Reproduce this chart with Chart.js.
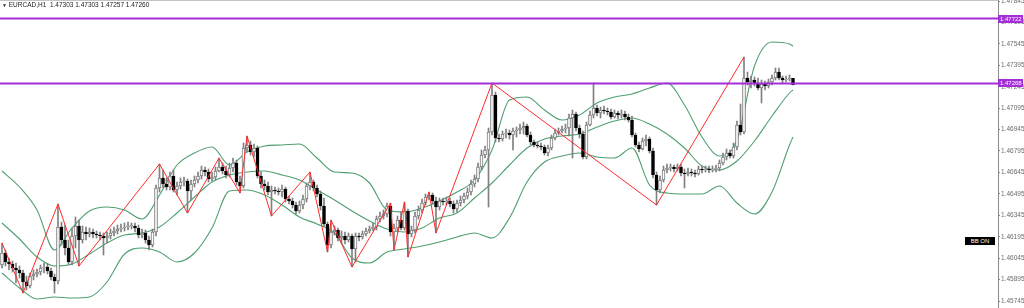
<!DOCTYPE html>
<html>
<head>
<meta charset="utf-8">
<title>EURCAD,H1</title>
<script src="https://cdn.jsdelivr.net/npm/chart.js@4.4.1/dist/chart.umd.min.js"></script>
<style>
  html, body { margin: 0; padding: 0; background: #fff; }
  #wrap { position: relative; width: 1024px; height: 308px; overflow: hidden; }
  #c { position: absolute; left: 0; top: 0; }
  .title { position: absolute; left: 2px; top: 1px; font: 6.5px "Liberation Sans", Arial, sans-serif; color: #222; white-space: pre; }
  .title .tri { font-size: 5px; }
  .bbon { position: absolute; left: 965px; top: 237px; width: 30px; height: 8px; background: #000; color: #fff;
          font: 6px "Liberation Sans", Arial, sans-serif; line-height: 8px; text-align: center; }
</style>
</head>
<body>
<div id="wrap">
  <canvas id="c" width="1024" height="308"></canvas>
  <div class="title"><span class="tri">▼</span> EURCAD,H1  1.47303 1.47303 1.47257 1.47260</div>
  <div class="bbon">BB ON</div>
</div>
<script>
// H1 candles (oldest first)
const opens = [
  1.45997,1.46081,1.46018,1.46004,1.45976,1.45962,1.45941,1.45878,1.45850,1.45920,
  1.45934,1.45948,1.45976,1.45983,1.45955,1.45913,1.45885,1.46263,1.46172,1.46116,
  1.46018,1.46200,1.46270,1.46172,1.46228,1.46214,1.46228,1.46214,1.46207,1.46200,
  1.46186,1.46200,1.46221,1.46235,1.46249,1.46256,1.46263,1.46270,1.46270,1.46256,
  1.46207,1.46221,1.46172,1.46137,1.46228,1.46536,1.46606,1.46564,1.46543,1.46620,
  1.46522,1.46550,1.46578,1.46585,1.46515,1.46564,1.46592,1.46620,1.46662,1.46648,
  1.46599,1.46613,1.46655,1.46683,1.46655,1.46627,1.46676,1.46711,1.46578,1.46550,
  1.46816,1.46837,1.46788,1.46816,1.46620,1.46564,1.46550,1.46508,1.46522,1.46515,
  1.46508,1.46529,1.46459,1.46445,1.46417,1.46375,1.46417,1.46459,1.46550,1.46578,
  1.46536,1.46494,1.46410,1.46284,1.46137,1.46228,1.46242,1.46186,1.46200,1.46172,
  1.46200,1.46109,1.46200,1.46193,1.46214,1.46235,1.46249,1.46263,1.46319,1.46340,
  1.46354,1.46410,1.46228,1.46256,1.46312,1.46256,1.46375,1.46214,1.46242,1.46340,
  1.46382,1.46431,1.46473,1.46487,1.46445,1.46403,1.46445,1.46438,1.46445,1.46424,
  1.46389,1.46431,1.46452,1.46480,1.46508,1.46564,1.46599,1.46683,1.46767,1.46802,
  1.46928,1.47187,1.46886,1.46879,1.46914,1.46921,1.46907,1.46935,1.46942,1.46956,
  1.46970,1.46907,1.46858,1.46837,1.46830,1.46823,1.46781,1.46816,1.46886,1.46921,
  1.46935,1.46949,1.46956,1.47026,1.47054,1.46956,1.46914,1.46753,1.46977,1.47047,
  1.47096,1.47061,1.47082,1.47075,1.47068,1.47033,1.47061,1.47047,1.47054,1.47033,
  1.47012,1.46907,1.46837,1.46809,1.46865,1.46879,1.46795,1.46627,1.46522,1.46592,
  1.46662,1.46676,1.46683,1.46669,1.46683,1.46641,1.46634,1.46648,1.46641,1.46634,
  1.46669,1.46662,1.46669,1.46662,1.46669,1.46676,1.46711,1.46753,1.46781,1.46760,
  1.46823,1.46977,1.46928,1.47306,1.47278,1.47292,1.47271,1.47236,1.47264,1.47250,
  1.47278,1.47306,1.47348,1.47306,1.47292,1.47299,1.47303
];
const highs = [
  1.46151,1.46102,1.46046,1.46025,1.46011,1.45990,1.45962,1.45920,1.45941,1.45962,
  1.45969,1.45997,1.46011,1.46004,1.45976,1.45934,1.46424,1.46298,1.46277,1.46172,
  1.46256,1.46333,1.46312,1.46270,1.46263,1.46256,1.46249,1.46235,1.46228,1.46221,
  1.46228,1.46249,1.46263,1.46277,1.46284,1.46291,1.46298,1.46291,1.46291,1.46277,
  1.46249,1.46242,1.46200,1.46249,1.46557,1.46704,1.46662,1.46606,1.46648,1.46662,
  1.46578,1.46606,1.46613,1.46599,1.46592,1.46620,1.46648,1.46690,1.46683,1.46669,
  1.46648,1.46683,1.46746,1.46711,1.46690,1.46711,1.46746,1.46732,1.46620,1.46851,
  1.46900,1.46865,1.46844,1.46830,1.46648,1.46592,1.46578,1.46550,1.46543,1.46536,
  1.46557,1.46543,1.46480,1.46466,1.46438,1.46445,1.46487,1.46571,1.46648,1.46592,
  1.46557,1.46515,1.46466,1.46298,1.46312,1.46270,1.46256,1.46235,1.46228,1.46221,
  1.46214,1.46221,1.46221,1.46235,1.46256,1.46270,1.46291,1.46340,1.46368,1.46382,
  1.46431,1.46431,1.46284,1.46340,1.46368,1.46438,1.46389,1.46270,1.46368,1.46410,
  1.46459,1.46494,1.46508,1.46501,1.46473,1.46466,1.46466,1.46473,1.46466,1.46445,
  1.46452,1.46480,1.46501,1.46536,1.46592,1.46627,1.46711,1.46802,1.46830,1.46956,
  1.47271,1.47208,1.46914,1.46935,1.46949,1.46942,1.46956,1.46963,1.46984,1.46998,
  1.46984,1.46928,1.46872,1.46858,1.46851,1.46837,1.46837,1.46907,1.46949,1.46956,
  1.46970,1.46984,1.47054,1.47082,1.47068,1.46977,1.46935,1.46998,1.47075,1.47271,
  1.47117,1.47103,1.47110,1.47096,1.47089,1.47082,1.47075,1.47082,1.47075,1.47054,
  1.47040,1.46921,1.46858,1.46886,1.46907,1.46893,1.46816,1.46648,1.46620,1.46690,
  1.46704,1.46704,1.46697,1.46704,1.46704,1.46669,1.46676,1.46669,1.46662,1.46690,
  1.46690,1.46690,1.46690,1.46690,1.46697,1.46732,1.46781,1.46809,1.46802,1.46851,
  1.47005,1.47124,1.47453,1.47348,1.47320,1.47313,1.47306,1.47292,1.47285,1.47299,
  1.47327,1.47376,1.47376,1.47320,1.47320,1.47327,1.47303
];
const lows = [
  1.45976,1.45990,1.45962,1.45948,1.45871,1.45906,1.45801,1.45822,1.45836,1.45892,
  1.45913,1.45927,1.45941,1.45934,1.45892,1.45801,1.45864,1.46137,1.46067,1.46004,
  1.45997,1.46116,1.45990,1.46151,1.46172,1.46193,1.46186,1.46186,1.46172,1.46067,
  1.46151,1.46179,1.46200,1.46214,1.46228,1.46235,1.46242,1.46249,1.46228,1.46186,
  1.46186,1.46151,1.46102,1.46123,1.46200,1.46508,1.46536,1.46522,1.46522,1.46508,
  1.46487,1.46529,1.46550,1.46361,1.46452,1.46543,1.46571,1.46599,1.46620,1.46578,
  1.46585,1.46592,1.46648,1.46634,1.46606,1.46613,1.46648,1.46557,1.46501,1.46536,
  1.46788,1.46767,1.46753,1.46606,1.46536,1.46522,1.46487,1.46340,1.46494,1.46487,
  1.46473,1.46438,1.46424,1.46396,1.46354,1.46361,1.46389,1.46438,1.46522,1.46515,
  1.46473,1.46382,1.46263,1.46088,1.46116,1.46207,1.46165,1.46151,1.46144,1.46158,
  1.45983,1.46018,1.46165,1.46179,1.46200,1.46221,1.46235,1.46242,1.46298,1.46319,
  1.46333,1.46200,1.46102,1.46228,1.46242,1.46242,1.46053,1.46193,1.46221,1.46319,
  1.46361,1.46417,1.46452,1.46424,1.46221,1.46382,1.46417,1.46417,1.46403,1.46361,
  1.46368,1.46410,1.46431,1.46459,1.46487,1.46543,1.46578,1.46662,1.46746,1.46403,
  1.46907,1.46858,1.46858,1.46865,1.46886,1.46879,1.46802,1.46893,1.46914,1.46914,
  1.46893,1.46837,1.46823,1.46816,1.46802,1.46767,1.46760,1.46802,1.46872,1.46907,
  1.46921,1.46921,1.46900,1.46746,1.46935,1.46886,1.46739,1.46739,1.46970,1.47026,
  1.47040,1.47026,1.47054,1.47047,1.47019,1.47026,1.47019,1.47026,1.47012,1.46998,
  1.46893,1.46823,1.46788,1.46802,1.46830,1.46781,1.46606,1.46417,1.46501,1.46578,
  1.46641,1.46655,1.46648,1.46655,1.46620,1.46536,1.46620,1.46620,1.46613,1.46627,
  1.46641,1.46648,1.46641,1.46648,1.46648,1.46655,1.46697,1.46732,1.46746,1.46746,
  1.46802,1.46907,1.46914,1.47257,1.47236,1.47250,1.47222,1.47131,1.47222,1.47236,
  1.47257,1.47292,1.47292,1.47271,1.47278,1.47285,1.47257
];
const closes = [
  1.46081,1.46018,1.46004,1.45976,1.45962,1.45941,1.45878,1.45850,1.45920,1.45934,
  1.45948,1.45976,1.45983,1.45955,1.45913,1.45885,1.46263,1.46172,1.46116,1.46018,
  1.46200,1.46270,1.46172,1.46228,1.46214,1.46228,1.46214,1.46207,1.46200,1.46186,
  1.46200,1.46221,1.46235,1.46249,1.46256,1.46263,1.46270,1.46270,1.46256,1.46207,
  1.46221,1.46172,1.46137,1.46228,1.46536,1.46606,1.46564,1.46543,1.46620,1.46522,
  1.46550,1.46578,1.46585,1.46515,1.46564,1.46592,1.46620,1.46662,1.46648,1.46599,
  1.46613,1.46655,1.46683,1.46655,1.46627,1.46676,1.46711,1.46578,1.46550,1.46816,
  1.46837,1.46788,1.46816,1.46620,1.46564,1.46550,1.46508,1.46522,1.46515,1.46508,
  1.46529,1.46459,1.46445,1.46417,1.46375,1.46417,1.46459,1.46550,1.46578,1.46536,
  1.46494,1.46410,1.46284,1.46137,1.46228,1.46242,1.46186,1.46200,1.46172,1.46200,
  1.46109,1.46200,1.46193,1.46214,1.46235,1.46249,1.46263,1.46319,1.46340,1.46354,
  1.46410,1.46228,1.46256,1.46312,1.46256,1.46375,1.46214,1.46242,1.46340,1.46382,
  1.46431,1.46473,1.46487,1.46445,1.46403,1.46445,1.46438,1.46445,1.46424,1.46389,
  1.46431,1.46452,1.46480,1.46508,1.46564,1.46599,1.46683,1.46767,1.46802,1.46928,
  1.47187,1.46886,1.46879,1.46914,1.46921,1.46907,1.46935,1.46942,1.46956,1.46970,
  1.46907,1.46858,1.46837,1.46830,1.46823,1.46781,1.46816,1.46886,1.46921,1.46935,
  1.46949,1.46956,1.47026,1.47054,1.46956,1.46914,1.46753,1.46977,1.47047,1.47096,
  1.47061,1.47082,1.47075,1.47068,1.47033,1.47061,1.47047,1.47054,1.47033,1.47012,
  1.46907,1.46837,1.46809,1.46865,1.46879,1.46795,1.46627,1.46522,1.46592,1.46662,
  1.46676,1.46683,1.46669,1.46683,1.46641,1.46634,1.46648,1.46641,1.46634,1.46669,
  1.46662,1.46669,1.46662,1.46669,1.46676,1.46711,1.46753,1.46781,1.46760,1.46823,
  1.46977,1.46928,1.47306,1.47278,1.47292,1.47271,1.47236,1.47264,1.47250,1.47278,
  1.47306,1.47348,1.47306,1.47292,1.47299,1.47306,1.47260
];

// Bollinger bands, sampled every 5 bars
const bandIdx = [0,5,10,15,20,25,30,35,40,45,50,55,60,65,70,75,80,85,90,95,100,105,110,115,120,
  125,130,135,140,145,150,155,160,165,170,175,180,185,190,195,200,205,210,215,220,225,226];
const bandUpper = [
  1.46655,1.46543,1.46382,1.46102,1.46256,1.46375,1.46403,1.46382,1.46319,1.46487,
  1.46697,1.46781,1.46823,1.46697,1.46788,1.46830,1.46837,1.46844,1.46746,1.46648,
  1.46641,1.46571,1.46382,1.46368,1.46396,1.46445,1.46508,1.46592,1.46802,1.47152,
  1.47173,1.47082,1.47012,1.47047,1.47131,1.47173,1.47194,1.47236,1.47271,1.47117,
  1.46893,1.46760,1.46872,1.47390,1.47558,1.47544,1.47530
];
const bandMiddle = [
  1.46291,1.46179,1.46053,1.45990,1.46004,1.46074,1.46151,1.46207,1.46221,1.46263,
  1.46361,1.46473,1.46578,1.46627,1.46648,1.46655,1.46627,1.46592,1.46522,1.46452,
  1.46375,1.46305,1.46249,1.46228,1.46256,1.46326,1.46361,1.46466,1.46571,1.46697,
  1.46816,1.46879,1.46900,1.46914,1.46963,1.47005,1.47026,1.46984,1.46914,1.46816,
  1.46690,1.46662,1.46725,1.46865,1.47040,1.47201,1.47222
];
const bandLower = [
  1.45941,1.45836,1.45759,1.45773,1.45766,1.45773,1.45878,1.46074,1.46116,1.46088,
  1.46018,1.46081,1.46256,1.46515,1.46522,1.46487,1.46417,1.46333,1.46284,1.46221,
  1.46046,1.46011,1.46088,1.46109,1.46130,1.46158,1.46193,1.46221,1.46186,1.46326,
  1.46578,1.46718,1.46760,1.46781,1.46753,1.46746,1.46816,1.46557,1.46501,1.46494,
  1.46494,1.46550,1.46431,1.46354,1.46508,1.46837,1.46893
];

// ZigZag swing points (bar index, price)
const zigIdx = [0,6,16,22,45,53,62,68,70,77,88,93,94,100,111,112,115,116,122,124,140,187,212];
const zigPrice = [
  1.46151,1.45801,1.46424,1.45990,1.46704,1.46361,1.46746,1.46501,1.46900,1.46340,
  1.46648,1.46088,1.46312,1.45983,1.46431,1.46102,1.46438,1.46053,1.46508,1.46221,
  1.47271,1.46417,1.47453
];

const levels = [1.47722, 1.47268];
const tickLabels = [1.47845,1.47695,1.47545,1.47395,1.47245,1.47095,1.46945,1.46795,
  1.46645,1.46495,1.46345,1.46195,1.46045,1.45895,1.45745];

// visible window of the terminal
const xMin = -0.5714, xMax = 284.571;
const yMin = 1.45696, yMax = 1.47852;

const purple = '#a42fd9';
const green = '#4f9f70';

const wickData = opens.map((o, i) => ({ x: i, y: [lows[i], highs[i]] }));
const bodyData = opens.map((o, i) => ({ x: i, y: [o, closes[i]] }));
const bodyFill = opens.map((o, i) => closes[i] >= o ? '#ffffff' : '#000000');
const bodyEdge = opens.map((o, i) => closes[i] >= o ? '#787878' : '#000000');

const toPts = (xs, ys) => xs.map((x, i) => ({ x: x, y: ys[i] }));

function bandSet(values) {
  return {
    type: 'line',
    data: toPts(bandIdx, values),
    borderColor: green,
    borderWidth: 1.1,
    pointRadius: 0,
    cubicInterpolationMode: 'monotone',
    order: 4
  };
}

const levelSets = levels.map(v => ({
  type: 'line',
  data: [{ x: xMin, y: v }, { x: xMax, y: v }],
  borderColor: purple,
  borderWidth: 2,
  pointRadius: 0,
  order: 0
}));

// price tags on the axis + top frame line
const tags = {
  id: 'tags',
  beforeDatasetsDraw(chart) {
    const { ctx, chartArea } = chart;
    ctx.save();
    ctx.strokeStyle = '#c4c4c4';
    ctx.lineWidth = 1;
    ctx.beginPath();
    ctx.moveTo(chartArea.left, chartArea.top + 0.5);
    ctx.lineTo(chartArea.right, chartArea.top + 0.5);
    ctx.stroke();
    ctx.restore();
  },
  afterDraw(chart) {
    const { ctx, chartArea, scales } = chart;
    ctx.save();
    ctx.font = '6px "Liberation Sans", Arial, sans-serif';
    ctx.textBaseline = 'middle';
    levels.forEach(v => {
      const py = Math.round(scales.y.getPixelForValue(v));
      ctx.fillStyle = purple;
      ctx.fillRect(chartArea.right, py - 4, 25, 8);
      ctx.fillStyle = '#ffffff';
      ctx.fillText(v.toFixed(5), chartArea.right + 2, py + 0.5);
    });
    ctx.restore();
  }
};

new Chart(document.getElementById('c'), {
  type: 'bar',
  data: {
    datasets: [
      ...levelSets,
      {
        type: 'line',
        data: toPts(zigIdx, zigPrice),
        borderColor: '#ff2b2b',
        borderWidth: 1,
        pointRadius: 0,
        tension: 0,
        order: 1
      },
      {
        type: 'bar',
        data: bodyData,
        backgroundColor: bodyFill,
        borderColor: bodyEdge,
        borderWidth: 1,
        borderSkipped: false,
        barThickness: 3,
        minBarLength: 1,
        grouped: false,
        order: 2
      },
      {
        type: 'bar',
        data: wickData,
        backgroundColor: '#808080',
        barThickness: 1,
        grouped: false,
        order: 3
      },
      bandSet(bandUpper),
      bandSet(bandMiddle),
      bandSet(bandLower)
    ]
  },
  options: {
    responsive: false,
    animation: false,
    devicePixelRatio: 1,
    layout: { padding: 0 },
    plugins: {
      legend: { display: false },
      tooltip: { enabled: false }
    },
    scales: {
      x: { type: 'linear', min: xMin, max: xMax, offset: false, display: false },
      y: {
        position: 'right',
        min: yMin,
        max: yMax,
        afterBuildTicks: s => { s.ticks = tickLabels.map(v => ({ value: v })); },
        afterFit: s => { s.width = 26; s.paddingTop = 0; s.paddingBottom = 0; },
        ticks: {
          autoSkip: false,
          padding: 1,
          color: '#6b6b6b',
          font: { family: 'Liberation Sans', size: 6.5 },
          callback: v => Number(v).toFixed(5)
        },
        grid: { drawOnChartArea: false, drawTicks: true, tickLength: 2, color: '#8a8a8a' },
        border: { display: true, color: '#8a8a8a', width: 1 }
      }
    }
  },
  plugins: [tags]
});
</script>
</body>
</html>
